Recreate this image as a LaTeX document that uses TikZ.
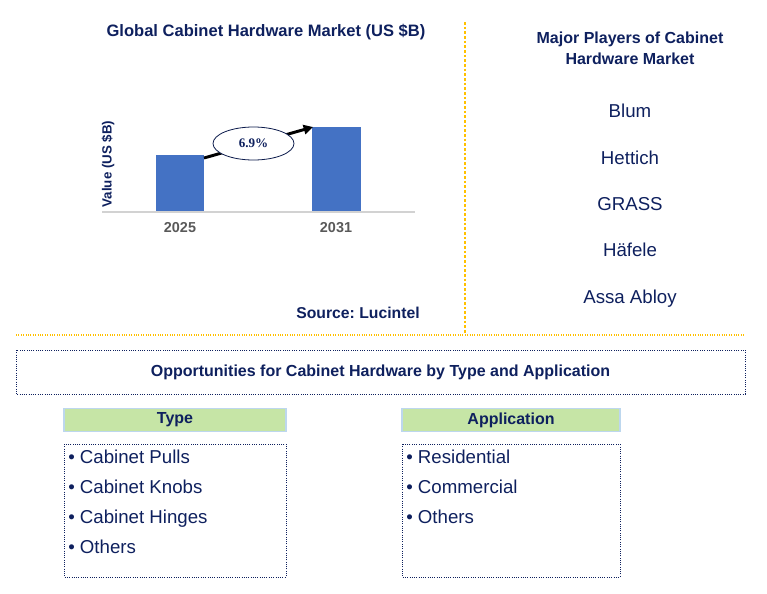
\documentclass[tikz,border=0pt]{standalone}
\usepackage{fontspec}
\setmainfont{Liberation Sans}
\newfontfamily\timesfont{Liberation Serif}
\usepackage{tikz}
\usetikzlibrary{shapes.geometric, arrows.meta}
\definecolor{navy}{RGB}{14,32,94}
\definecolor{barblue}{RGB}{68,114,196}
\definecolor{headgreen}{RGB}{198,229,166}
\definecolor{headline}{RGB}{189,215,238}
\definecolor{gold}{RGB}{255,192,0}
\definecolor{yeargray}{RGB}{89,89,89}
\frenchspacing

\begin{document}
\begin{tikzpicture}[x=0.75pt, y=-0.75pt,
	title/.style = {text=navy, font=\bfseries\fontsize{12}{15.75}\selectfont, align=center},
	player/.style = {text=navy, anchor=base, font=\fontsize{14}{16}\selectfont},
	year/.style = {text=yeargray, font=\bfseries\fontsize{10.8}{12}\selectfont},
	bar/.style = {fill=barblue, draw=none},
	head/.style = {fill=headgreen, draw=headline, line width=0.8pt, minimum height=17.5pt, inner sep=0pt, text=navy, font=\bfseries\fontsize{12}{14}\selectfont},
	listbox/.style = {draw=navy, densely dotted, line width=0.7pt},
	item/.style = {text=navy, anchor=base west, inner sep=0pt, font=\fontsize{14}{16}\selectfont}]
	\useasboundingbox (0,0) rectangle (767,593);

	% chart
	\node[title, font=\bfseries\fontsize{12.4}{15}\selectfont] (ct) at (266,32) {Global Cabinet Hardware Market (US \$B)};
	\draw[bar] (156,155) rectangle (204,212);
	\draw[bar] (312,127) rectangle (361,212);
	\draw[gray!35, line width=0.8pt] (102,212) -- (415,212);
	\coordinate (a) at (204,158);
	\coordinate (b) at (313,127);
	\draw[line width=2.2pt, -{Triangle[length=7pt, width=7pt]}] (a) -- (b);
	\node[ellipse, draw=navy!80!black, fill=white, line width=0.6pt, minimum width=60.75pt, minimum height=24.75pt, inner sep=0pt, text=navy, font=\timesfont\bfseries\fontsize{9.8}{11}\selectfont] (g) at (253.5,143.5) {6.9\%};
	\node[rotate=90, text=navy, font=\bfseries\fontsize{10}{12}\selectfont] (v) at (108,164) {Value (US \$B)};
	\node[year] (y1) at (180,228) {2025};
	\node[year] (y2) at (336,228) {2031};
	\node[text=navy, font=\bfseries\fontsize{11.8}{14}\selectfont] (src) at (358,313) {Source: Lucintel};

	% separators
	\draw[gold, dash pattern=on 2pt off 1.5pt, line width=0.8pt] (465,22) -- (465,334);
	\draw[gold, densely dotted, line width=0.8pt] (16,335) -- (745,335);

	% players
	\node[title] (mp) at (630,48) {Major Players of Cabinet\\Hardware Market};
	\node[player] (p1) at (630,117) {Blum};
	\node[player] (p2) at (630,164) {Hettich};
	\node[player] (p3) at (630,210) {GRASS};
	\node[player] (p4) at (630,256) {Häfele};
	\node[player] (p5) at (630,303) {Assa Abloy};

	% opportunities
	\draw[listbox] (16,350) rectangle (745,394);
	\node[title] (op) at (380.5,372) {Opportunities for Cabinet Hardware by Type and Application};
	\node[head, minimum width=166.5pt] (ty) at (175,420) {Type};
	\node[head, minimum width=163.5pt] (ap) at (511,420) {Application};
	\draw[listbox] (64,444) rectangle (286,577);
	\draw[listbox] (402,444) rectangle (620,577);
	\node[item] (t1) at (68,463) {• Cabinet Pulls};
	\node[item] (t2) at (68,493) {• Cabinet Knobs};
	\node[item] (t3) at (68,523) {• Cabinet Hinges};
	\node[item] (t4) at (68,553) {• Others};
	\node[item] (s1) at (406,463) {• Residential};
	\node[item] (s2) at (406,493) {• Commercial};
	\node[item] (s3) at (406,523) {• Others};
\end{tikzpicture}
\end{document}
